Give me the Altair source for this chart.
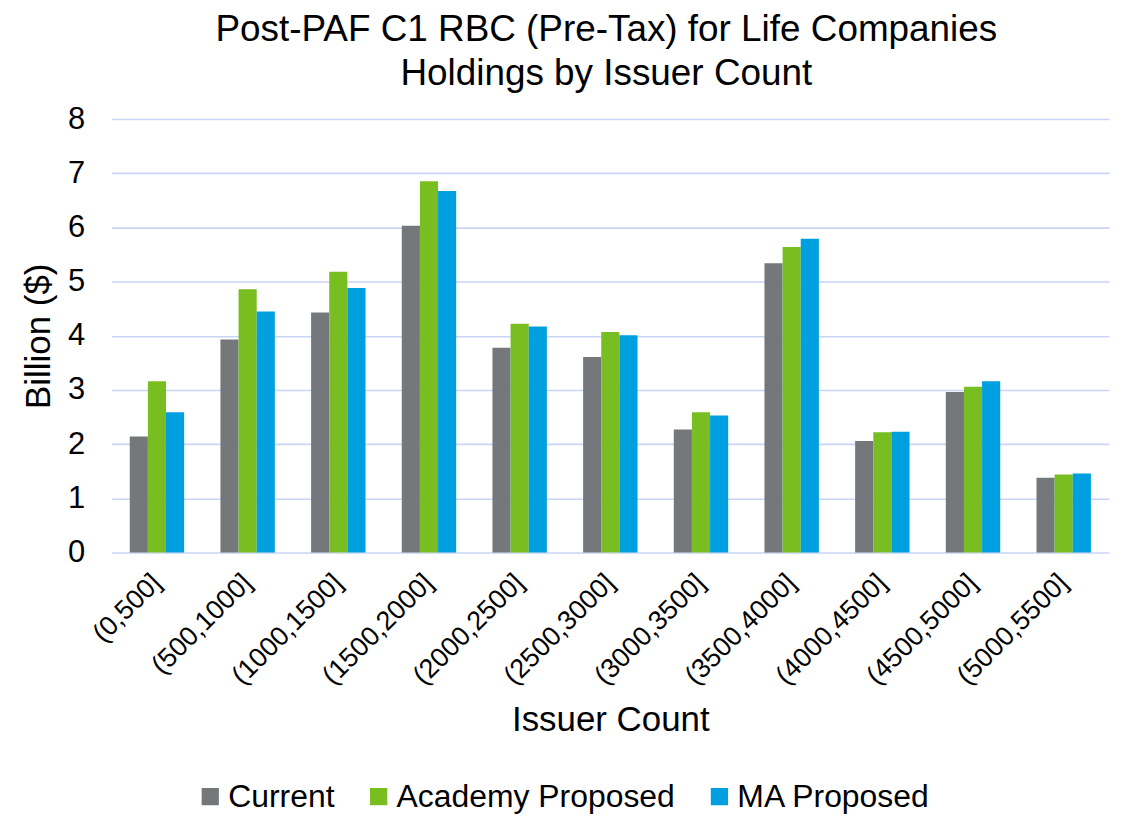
import altair as alt
import pandas as pd

categories = ["(0,500]", "(500,1000]", "(1000,1500]", "(1500,2000]", "(2000,2500]",
              "(2500,3000]", "(3000,3500]", "(3500,4000]", "(4000,4500]", "(4500,5000]",
              "(5000,5500]"]
series = ["Current", "Academy Proposed", "MA Proposed"]
current = [2.14, 3.93, 4.43, 6.03, 3.78, 3.61, 2.27, 5.34, 2.06, 2.96, 1.38]
academy = [3.16, 4.86, 5.18, 6.85, 4.22, 4.07, 2.59, 5.64, 2.22, 3.06, 1.44]
ma = [2.59, 4.45, 4.88, 6.67, 4.17, 4.01, 2.53, 5.79, 2.23, 3.16, 1.46]
colors = ["#75787B", "#78BE20", "#009FDF"]

rows = []
for name, vals in zip(series, [current, academy, ma]):
    for c, v in zip(categories, vals):
        rows.append({"Issuer Count": c, "Series": name, "Value": v})
df = pd.DataFrame(rows)

FONT = "Liberation Sans"

chart = alt.Chart(df).mark_bar().encode(
    x=alt.X("Issuer Count:N", sort=categories,
            scale=alt.Scale(paddingInner=0.4, paddingOuter=0.2),
            axis=alt.Axis(title="Issuer Count", labelAngle=-45, labelAlign="right",
                          labelBaseline="middle", labelFontSize=27, labelPadding=26,
                          ticks=False, domain=False, grid=False, labelLimit=0,
                          titleFontSize=35, titleFontWeight="normal",
                          titleY=168, titleBaseline="middle", labelColor="#000",
                          titleColor="#000")),
    xOffset=alt.XOffset("Series:N", sort=series),
    y=alt.Y("Value:Q", scale=alt.Scale(domain=[0, 8], nice=False),
            axis=alt.Axis(title="Billion ($)", values=[0, 1, 2, 3, 4, 5, 6, 7, 8],
                          labelFontSize=31, labelPadding=27, ticks=False, domain=False,
                          grid=True, gridColor="#C9D5F5", gridWidth=1.6,
                          titleFontSize=35, titleFontWeight="normal",
                          titleX=-73, titleBaseline="middle", labelColor="#000",
                          titleColor="#000")),
    color=alt.Color("Series:N", sort=series,
                    scale=alt.Scale(domain=series, range=colors),
                    legend=alt.Legend(title=None, orient="none", direction="horizontal",
                                      legendX=83, legendY=664, symbolType="square",
                                      symbolSize=300, symbolStrokeWidth=0,
                                      labelFontSize=32, labelOffset=2, labelLimit=0,
                                      columnPadding=28, padding=0,
                                      labelColor="#000")),
).properties(
    width=1001,
    height=435,
    title=alt.TitleParams(
        text=["Post-PAF C1 RBC (Pre-Tax) for Life Companies", "Holdings by Issuer Count"],
        fontSize=37, fontWeight="normal", lineHeight=44, offset=10, anchor="middle",
        dx=-4, color="#000"),
    autosize=alt.AutoSizeParams(type="none"),
    padding={"left": 104, "top": 110, "right": 5, "bottom": 263},
).configure(font=FONT).configure_view(stroke=None)

chart.save("out.html", embed_options={"renderer": "svg", "actions": False})
